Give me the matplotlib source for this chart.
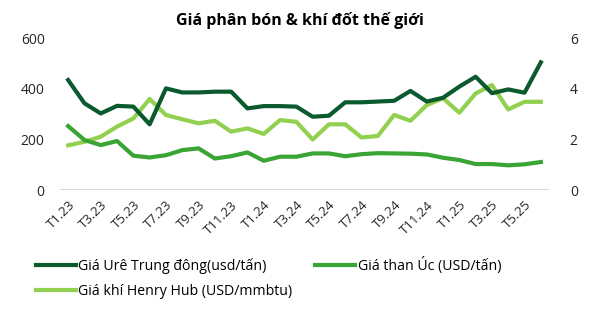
import matplotlib
matplotlib.use("Agg")
import matplotlib.pyplot as plt
import numpy as np

plt.rcParams['font.family'] = ['Open Sans', 'DejaVu Sans']

months = [f"T{m}.{y}" for y in (23, 24, 25) for m in range(1, 13)][:30]
urea = [435, 343, 303, 333, 330, 260, 402, 386, 386, 389,
        389, 323, 332, 332, 330, 290, 294, 347, 347, 350,
        353, 392, 350, 365, 409, 448, 383, 398, 385, 505]
coal = [253, 198, 178, 194, 136, 129, 138, 158, 165, 125,
        134, 149, 116, 132, 132, 145, 145, 134, 142, 146,
        145, 144, 141, 128, 119, 103, 103, 98, 102, 111]
henry = [1.77, 1.91, 2.11, 2.51, 2.83, 3.60, 2.97, 2.80, 2.64, 2.74,
         2.31, 2.44, 2.22, 2.77, 2.70, 2.00, 2.60, 2.60, 2.08, 2.14,
         2.97, 2.74, 3.36, 3.63, 3.06, 3.82, 4.15, 3.19, 3.49, 3.49]

c_urea = '#0b5a2e'
c_coal = '#3aa534'
c_henry = '#92d050'

fig = plt.figure(figsize=(6.0, 3.19), dpi=100)
ax = fig.add_axes([0.1, 0.404, 0.815, 0.476])
ax2 = ax.twinx()

x = np.arange(len(months))
l1, = ax.plot(x, urea, color=c_urea, lw=3, label='Giá Urê Trung đông(usd/tấn)', zorder=3)
l2, = ax.plot(x, coal, color=c_coal, lw=3, label='Giá than Úc (USD/tấn)', zorder=3)
l3, = ax2.plot(x, henry, color=c_henry, lw=3, label='Giá khí Henry Hub (USD/mmbtu)', zorder=2)
ax.set_zorder(ax2.get_zorder() + 1)
ax.patch.set_visible(False)

ax.set_xlim(-0.5, len(months) - 0.5)
ax.set_ylim(0, 600)
ax2.set_ylim(0, 6)
ax.set_yticks([0, 200, 400, 600])
ax2.set_yticks([0, 2, 4, 6])
ax.axhline(0, color='#d9d9d9', lw=1.5, zorder=1)

for a in (ax, ax2):
    for s in a.spines.values():
        s.set_visible(False)
    a.tick_params(length=0, labelsize=10, colors='#262626')
ax.tick_params(axis='y', pad=11)
ax2.tick_params(axis='y', pad=15)

ax.set_xticks(x[::2])
ax.set_xticklabels(months[::2], rotation=45, ha='right', rotation_mode='anchor', fontsize=9.5)
ax.tick_params(axis='x', pad=6)

fig.text(0.5, 0.935, 'Giá phân bón & khí đốt thế giới', ha='center', va='center',
         fontsize=11.5, fontweight='bold', color='black')

fig.legend(handles=[l1, l3, l2], ncol=2, loc='upper left', bbox_to_anchor=(0.06, 0.195),
           frameon=False, fontsize=10.2, handlelength=2.8, handletextpad=0.2,
           columnspacing=1.6, labelspacing=0.75, borderaxespad=0, borderpad=0)

fig.savefig('out.png', dpi=100)
